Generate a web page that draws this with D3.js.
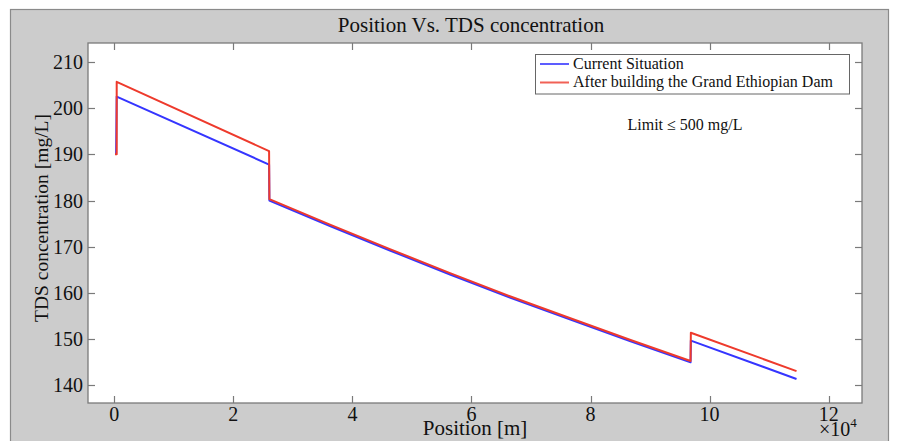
<!DOCTYPE html>
<html><head><meta charset="utf-8">
<script src="https://cdn.jsdelivr.net/npm/d3@7"></script>
<style>body{margin:0;background:#fff}svg{display:block}text{font-family:"Liberation Serif","Times New Roman",serif;fill:#111}</style>
</head><body><svg id="c" width="899" height="441"></svg>
<script>
const title = "Position Vs. TDS concentration";
const xLabel = "Position [m]";
const yLabel = "TDS concentration [mg/L]";
const seriesNames = ["Current Situation", "After building the Grand Ethiopian Dam"];
const seriesColors = ["#3535ff", "#ee3a2c"];
// positions in metres
const currentX = [300, 400, 26000, 26050, 36230, 46300, 56400, 66450, 76500, 86600, 96800, 96850, 114600];
const currentY = [190, 202.5, 187.8, 180.0, 174.5, 169.2, 164.0, 159.0, 154.3, 149.6, 145.0, 149.7, 141.4];
const damX = [120, 400, 400, 26000, 26050, 36230, 46300, 56400, 66450, 76500, 86600, 96800, 96850, 114600];
const damY = [190, 190, 205.7, 190.7, 180.3, 174.8, 169.5, 164.3, 159.3, 154.6, 149.9, 145.3, 151.4, 143.1];
const xTicks = [0, 20000, 40000, 60000, 80000, 100000, 120000];
const yTicks = [140, 150, 160, 170, 180, 190, 200, 210];
const annotation = "Limit \u2264 500 mg/L";

const svg = d3.select("#c");
const L = 88, R = 862, T = 43, B = 403;
const x = d3.scaleLinear().domain([-4420, 125600]).range([L, R]);
const y = d3.scaleLinear().domain([136.2, 214.1]).range([B, T]);

svg.append("rect").attr("x", 10.5).attr("y", 9.5).attr("width", 878).attr("height", 440)
  .attr("fill", "#cccccc").attr("stroke", "#8a8a8a").attr("stroke-width", 1.2);
svg.append("rect").attr("x", L).attr("y", T).attr("width", R - L).attr("height", B - T)
  .attr("fill", "#fff");

svg.append("text").attr("x", 471).attr("y", 32).attr("text-anchor", "middle")
  .attr("font-size", 21).text(title);

const axisColor = "#7a7a7a";
const tl = 7;
const g = svg.append("g").attr("stroke", axisColor).attr("stroke-width", 1.2);
xTicks.forEach(t => {
  const px = Math.round(x(t)) + 0.5;
  g.append("line").attr("x1", px).attr("x2", px).attr("y1", B).attr("y2", B - tl);
  g.append("line").attr("x1", px).attr("x2", px).attr("y1", T).attr("y2", T + tl);
});
yTicks.forEach(t => {
  const py = Math.round(y(t)) + 0.5;
  g.append("line").attr("x1", L).attr("x2", L + tl).attr("y1", py).attr("y2", py);
  g.append("line").attr("x1", R).attr("x2", R - tl).attr("y1", py).attr("y2", py);
});
const fmt = d => String(d / 10000);
xTicks.forEach(t => {
  svg.append("text").attr("x", x(t)).attr("y", 421).attr("text-anchor", "middle")
    .attr("font-size", 20).text(fmt(t));
});
yTicks.forEach(t => {
  svg.append("text").attr("x", 83).attr("y", y(t) + 7).attr("text-anchor", "end")
    .attr("font-size", 20).text(t);
});

const line = d3.line().x(d => x(d[0])).y(d => y(d[1]));
const cur = currentX.map((v, i) => [v, currentY[i]]);
const dam = damX.map((v, i) => [v, damY[i]]);
svg.append("clipPath").attr("id", "cp").append("rect")
  .attr("x", L).attr("y", T).attr("width", R - L).attr("height", B - T);
const lg = svg.append("g").attr("clip-path", "url(#cp)");
lg.append("path").datum(cur).attr("d", line).attr("fill", "none")
  .attr("stroke", seriesColors[0]).attr("stroke-width", 2).attr("stroke-linejoin", "round");
lg.append("path").datum(dam).attr("d", line).attr("fill", "none")
  .attr("stroke", seriesColors[1]).attr("stroke-width", 2).attr("stroke-linejoin", "round");

svg.append("rect").attr("x", L).attr("y", T).attr("width", R - L).attr("height", B - T)
  .attr("fill", "none").attr("stroke", axisColor).attr("stroke-width", 1.3);

svg.append("rect").attr("x", 535.5).attr("y", 54.5).attr("width", 314).attr("height", 39.5)
  .attr("fill", "#fff").attr("stroke", "#666").attr("stroke-width", 1);
[64, 82.5].forEach((ly, i) => {
  svg.append("line").attr("x1", 540).attr("x2", 569).attr("y1", ly).attr("y2", ly)
    .attr("stroke", seriesColors[i]).attr("stroke-width", 2).attr("opacity", 0.8);
  svg.append("text").attr("x", 573).attr("y", ly + 4.8).attr("font-size", 16).text(seriesNames[i]);
});

svg.append("text").attr("x", 685).attr("y", 130).attr("text-anchor", "middle")
  .attr("font-size", 16).text(annotation);

svg.append("text").attr("x", 475).attr("y", 435).attr("text-anchor", "middle")
  .attr("font-size", 21).text(xLabel);
svg.append("text").attr("transform", "translate(48,218) rotate(-90)").attr("text-anchor", "middle")
  .attr("font-size", 19.5).text(yLabel);
const ex = svg.append("text").attr("x", 819).attr("y", 436).attr("font-size", 20);
ex.append("tspan").text("\u00d710");
ex.append("tspan").attr("font-size", 13).attr("dy", -9).text("4");
</script></body></html>
